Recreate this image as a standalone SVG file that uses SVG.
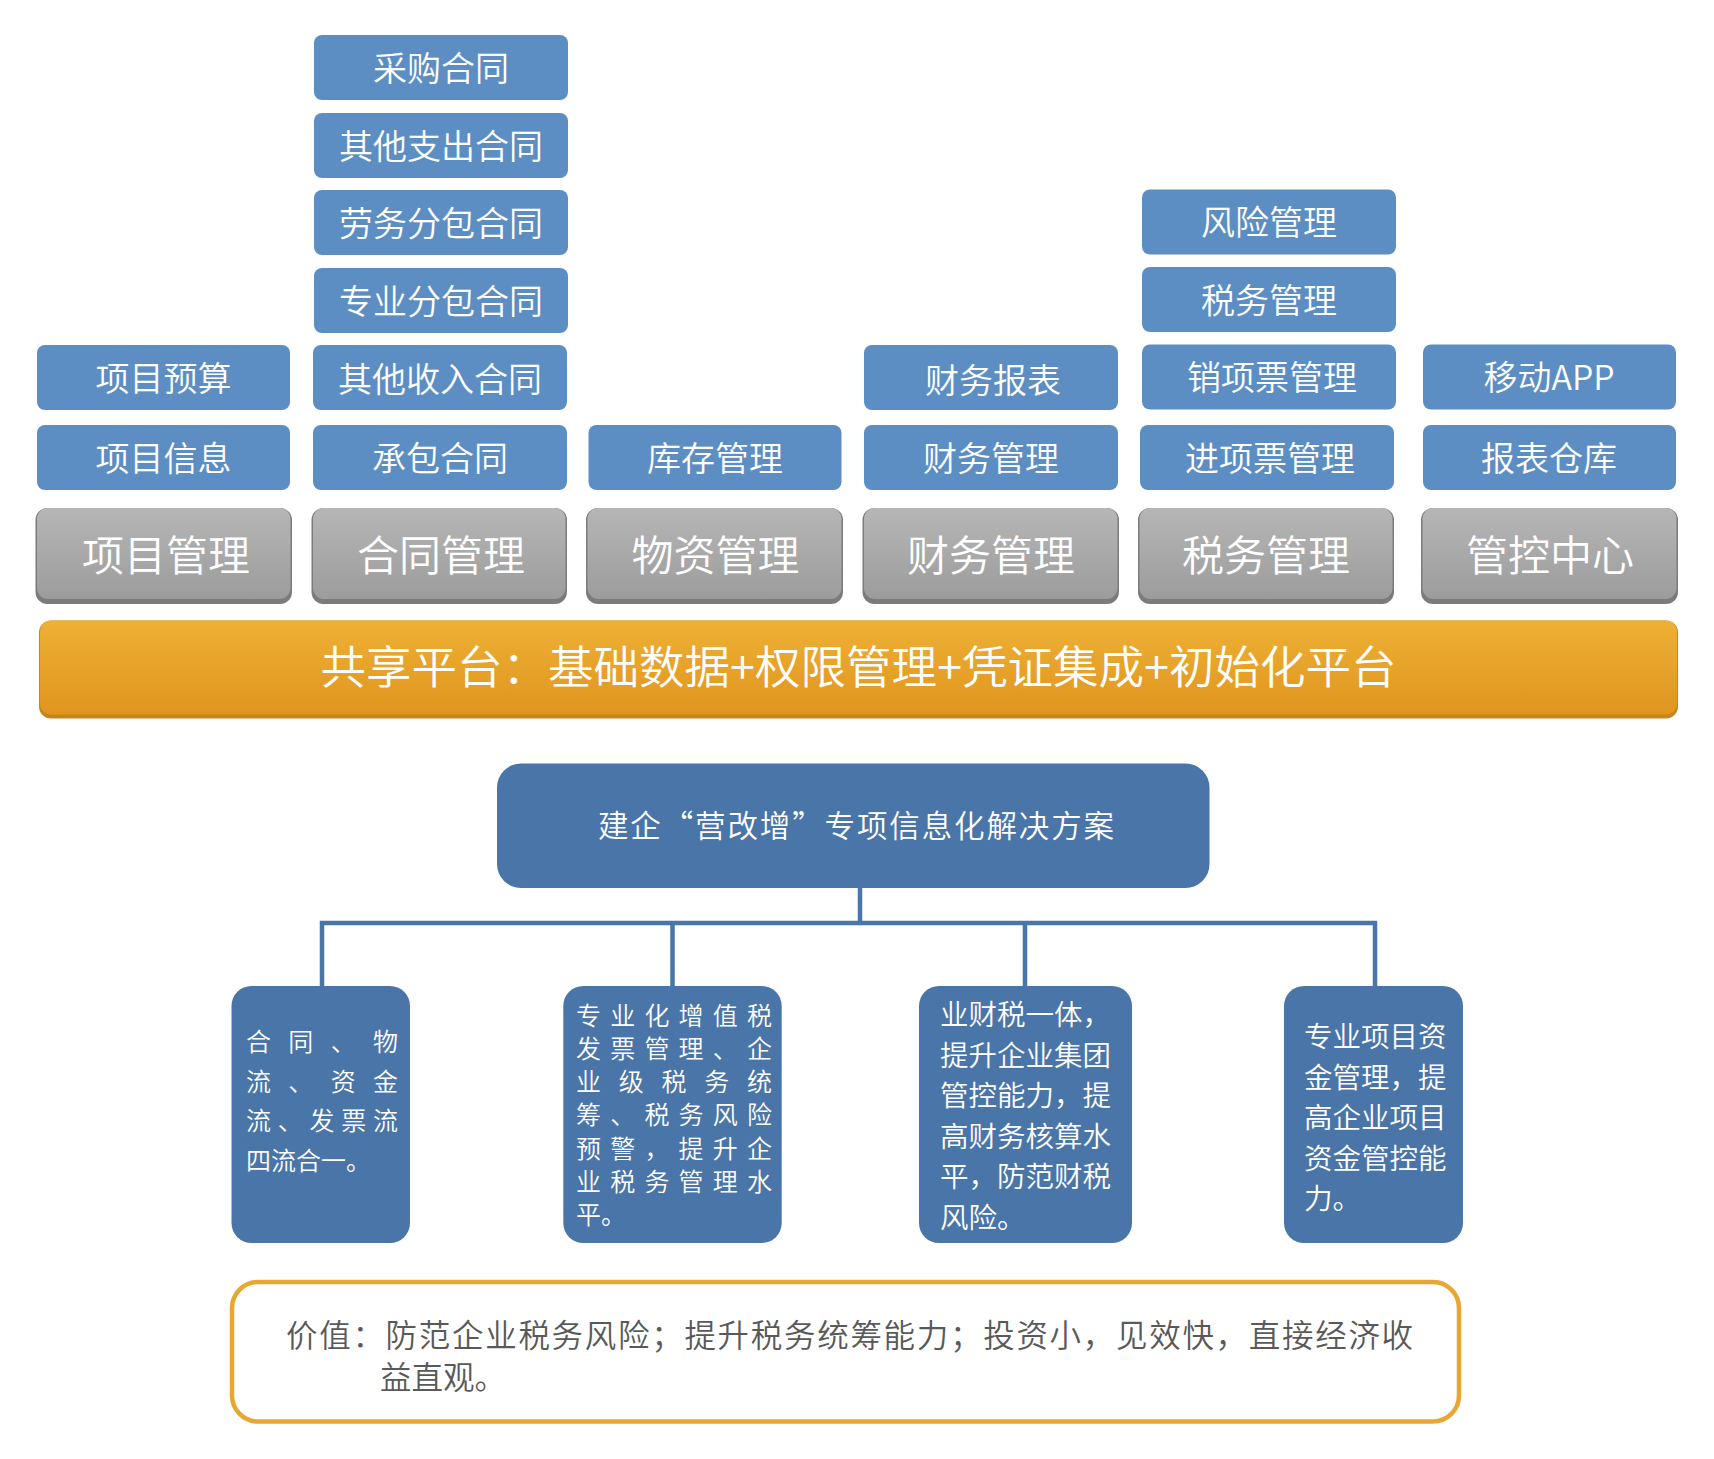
<svg xmlns="http://www.w3.org/2000/svg" width="1714" height="1459" viewBox="0 0 1714 1459">
<defs>
<linearGradient id="gGray" x1="0" y1="0" x2="0" y2="1">
<stop offset="0" stop-color="#b6b6b6"/>
<stop offset="1" stop-color="#9c9c9c"/>
</linearGradient>
<linearGradient id="gOrange" x1="0" y1="0" x2="0" y2="1">
<stop offset="0" stop-color="#eeb035"/>
<stop offset="1" stop-color="#e0951f"/>
</linearGradient>
</defs>
<style>
text{font-family:"Noto Sans CJK SC","Liberation Sans",sans-serif;font-weight:350;}
.bb{fill:#5c8ec4;}
.bt{font-size:34px;fill:#ffffff;text-anchor:middle;}
.gEdge{fill:#7b7b7b;}
.gFace{fill:url(#gGray);}
.gt{font-size:42px;fill:#ffffff;text-anchor:middle;}
.db{fill:#4a75a8;}
.wt{fill:#ffffff;}
.conn{fill:none;stroke:#4a75a8;stroke-width:4.5;stroke-linejoin:miter;stroke-linecap:butt;}
</style>
<rect width="1714" height="1459" fill="#ffffff"/>

<!-- blue module boxes -->
<g id="n-xmys"><rect class="bb" x="37" y="345" width="253" height="65" rx="8"/><text class="bt" x="163.5" y="391">项目预算</text></g>
<g id="n-xmxx"><rect class="bb" x="37" y="425" width="253" height="65" rx="8"/><text class="bt" x="163.5" y="471">项目信息</text></g>

<g id="n-cght"><rect class="bb" x="314" y="35" width="254" height="65" rx="8"/><text class="bt" x="441" y="81">采购合同</text></g>
<g id="n-qtzcht"><rect class="bb" x="314" y="113" width="254" height="65" rx="8"/><text class="bt" x="441" y="159">其他支出合同</text></g>
<g id="n-lwfbht"><rect class="bb" x="314" y="190" width="254" height="65" rx="8"/><text class="bt" x="441" y="236">劳务分包合同</text></g>
<g id="n-zyfbht"><rect class="bb" x="314" y="268" width="254" height="65" rx="8"/><text class="bt" x="441" y="314">专业分包合同</text></g>
<g id="n-qtsrht"><rect class="bb" x="313" y="345" width="254" height="65" rx="8"/><text class="bt" x="440" y="392">其他收入合同</text></g>
<g id="n-cbht"><rect class="bb" x="313" y="425" width="254" height="65" rx="8"/><text class="bt" x="440" y="471">承包合同</text></g>

<g id="n-kcgl"><rect class="bb" x="588.5" y="425" width="253" height="65" rx="8"/><text class="bt" x="715" y="471">库存管理</text></g>

<g id="n-cwbb"><rect class="bb" x="864" y="345" width="254" height="65" rx="8"/><text class="bt" x="993" y="393">财务报表</text></g>
<g id="n-cwgl-s"><rect class="bb" x="864" y="425" width="254" height="65" rx="8"/><text class="bt" x="991" y="471">财务管理</text></g>

<g id="n-fxgl"><rect class="bb" x="1142" y="189.5" width="254" height="65" rx="8"/><text class="bt" x="1269" y="235">风险管理</text></g>
<g id="n-swgl-s"><rect class="bb" x="1142" y="267" width="254" height="65" rx="8"/><text class="bt" x="1269" y="313">税务管理</text></g>
<g id="n-xxpgl"><rect class="bb" x="1142" y="344.5" width="254" height="65" rx="8"/><text class="bt" x="1272" y="390">销项票管理</text></g>
<g id="n-jxpgl"><rect class="bb" x="1140" y="425" width="254" height="65" rx="8"/><text class="bt" x="1270" y="471">进项票管理</text></g>

<g id="n-ydapp"><rect class="bb" x="1423" y="344.5" width="253" height="65" rx="8"/><text class="bt" x="1549" y="390">移动APP</text></g>
<g id="n-bbck"><rect class="bb" x="1423" y="425" width="253" height="65" rx="8"/><text class="bt" x="1549" y="471">报表仓库</text></g>

<!-- gray category boxes -->
<g id="n-xmgl"><rect class="gEdge" x="35.5" y="508" width="256.5" height="96" rx="12"/><rect class="gFace" x="37" y="508" width="253.5" height="91" rx="11"/><text class="gt" x="166" y="571">项目管理</text></g>
<g id="n-htgl"><rect class="gEdge" x="311.5" y="508" width="255.5" height="96" rx="12"/><rect class="gFace" x="313" y="508" width="252.5" height="91" rx="11"/><text class="gt" x="441" y="571">合同管理</text></g>
<g id="n-wzgl"><rect class="gEdge" x="586" y="508" width="257" height="96" rx="12"/><rect class="gFace" x="587.5" y="508" width="254" height="91" rx="11"/><text class="gt" x="715.5" y="571">物资管理</text></g>
<g id="n-cwgl"><rect class="gEdge" x="862.5" y="508" width="256.5" height="96" rx="12"/><rect class="gFace" x="864" y="508" width="253.5" height="91" rx="11"/><text class="gt" x="991" y="571">财务管理</text></g>
<g id="n-swgl"><rect class="gEdge" x="1138" y="508" width="256" height="96" rx="12"/><rect class="gFace" x="1139.5" y="508" width="253" height="91" rx="11"/><text class="gt" x="1266" y="571">税务管理</text></g>
<g id="n-gkzx"><rect class="gEdge" x="1421" y="508" width="257" height="96" rx="12"/><rect class="gFace" x="1422.5" y="508" width="254" height="91" rx="11"/><text class="gt" x="1550" y="571">管控中心</text></g>

<!-- shared platform bar -->
<g id="n-platform"><rect x="39" y="620.5" width="1639" height="98" rx="12" fill="#c8841b"/><rect x="40" y="620.5" width="1637" height="94" rx="11" fill="url(#gOrange)"/><text x="858.5" y="684" font-size="45.5" fill="#ffffff" text-anchor="middle">共享平台：基础数据+权限管理+凭证集成+初始化平台</text></g>

<!-- connectors -->
<g id="connectors">
<path class="conn" d="M860,888 V923"/>
<path class="conn" d="M322,986 V923 H1375 V986"/>
<path class="conn" d="M672.5,923 V986"/>
<path class="conn" d="M1025,923 V986"/>
</g>

<!-- title -->
<g id="n-title"><rect class="db" x="497" y="763.5" width="712.5" height="124.5" rx="24"/><text x="598" y="837" font-size="30.5" fill="#ffffff" textLength="516" lengthAdjust="spacing">建企“营改增”专项信息化解决方案</text></g>

<!-- benefit boxes -->
<g id="n-b1"><rect class="db" x="231.5" y="986" width="178.5" height="257" rx="20"/>
<g class="wt" font-size="25">
<text x="246 288.3 330.7 373" y="1051">合同、物</text>
<text x="246 288.3 330.7 373" y="1090.5">流、资金</text>
<text x="246 277.75 309.5 341.25 373" y="1130">流、发票流</text>
<text x="246" y="1169.5">四流合一。</text>
</g></g>

<g id="n-b2"><rect class="db" x="563.3" y="986" width="218.4" height="257" rx="20"/>
<g class="wt" font-size="25">
<text x="576 610.2 644.4 678.6 712.8 747" y="1024.5">专业化增值税</text>
<text x="576 610.2 644.4 678.6 712.8 747" y="1057.8">发票管理、企</text>
<text x="576 618.75 661.5 704.25 747" y="1091.1">业级税务统</text>
<text x="576 610.2 644.4 678.6 712.8 747" y="1124.4">筹、税务风险</text>
<text x="576 610.2 644.4 678.6 712.8 747" y="1157.7">预警，提升企</text>
<text x="576 610.2 644.4 678.6 712.8 747" y="1191">业税务管理水</text>
<text x="576" y="1224.3">平。</text>
</g></g>

<g id="n-b3"><rect class="db" x="919" y="986" width="213" height="257" rx="20"/>
<g class="wt" font-size="28.5">
<text x="940" y="1025">业财税一体，</text>
<text x="940" y="1065.5">提升企业集团</text>
<text x="940" y="1106">管控能力，提</text>
<text x="940" y="1146.5">高财务核算水</text>
<text x="940" y="1187">平，防范财税</text>
<text x="940" y="1227.5">风险。</text>
</g></g>

<g id="n-b4"><rect class="db" x="1284" y="986" width="179" height="257" rx="20"/>
<g class="wt" font-size="28.5">
<text x="1304" y="1047">专业项目资</text>
<text x="1304" y="1087.5">金管理，提</text>
<text x="1304" y="1128">高企业项目</text>
<text x="1304" y="1168.5">资金管控能</text>
<text x="1304" y="1209">力。</text>
</g></g>

<!-- value box -->
<g id="n-value"><rect x="232" y="1282" width="1227" height="139.5" rx="26" fill="#ffffff" stroke="#e8a633" stroke-width="4.5"/>
<g fill="#595959" font-size="31.5">
<text x="286" y="1347" letter-spacing="1.7">价值：防范企业税务风险；提升税务统筹能力；投资小，见效快，直接经济收</text>
<text x="380" y="1389">益直观。</text>
</g></g>
</svg>
